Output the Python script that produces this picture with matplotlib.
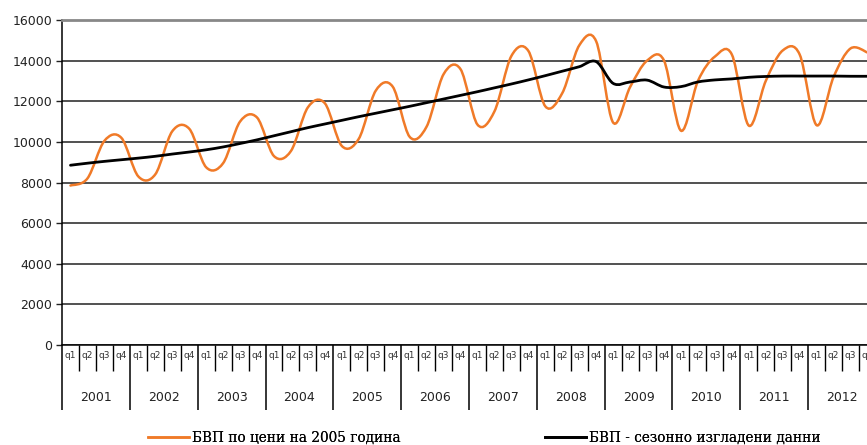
import matplotlib.pyplot as plt
import numpy as np
from matplotlib.lines import Line2D
from matplotlib.patches import PathPatch
from matplotlib.path import Path

YEARS = [str(y) for y in range(2001, 2013)]
QUARTERS = ["q1", "q2", "q3", "q4"]

# GDP at 2005 prices, quarterly
GDP_2005_PRICES = [
    7850, 8200, 10050, 10200,   # 2001
    8300, 8400, 10520, 10650,   # 2002
    8750, 8950, 11000, 11200,   # 2003
    9300, 9550, 11700, 11900,   # 2004
    9800, 10150, 12520, 12720,  # 2005
    10250, 10750, 13330, 13580, # 2006
    10850, 11500, 14230, 14480, # 2007
    11750, 12400, 14750, 14950, # 2008
    10950, 12700, 14000, 14000, # 2009
    10550, 13000, 14200, 14300, # 2010
    10800, 13000, 14500, 14300, # 2011
    10820, 13200, 14600, 14400, # 2012
]

# seasonally adjusted GDP
GDP_SEASONALLY_ADJ = [
    8850, 8950, 9040, 9120,
    9200, 9290, 9400, 9500,
    9610, 9750, 9920, 10100,
    10300, 10500, 10700, 10880,
    11060, 11240, 11410, 11580,
    11750, 11930, 12110, 12290,
    12470, 12660, 12850, 13050,
    13260, 13480, 13700, 13950,
    12880, 12950, 13040, 12700,
    12720, 12950, 13050, 13100,
    13180, 13220, 13240, 13240,
    13240, 13240, 13230, 13230,
]

LABEL_ORANGE = "БВП по цени на 2005 година"
LABEL_BLACK = "БВП - сезонно изгладени данни"

ORANGE = "#F07A28"


def smooth_path(xs, ys):
    # excel-style smoothed line: cubic bezier through every point
    pts = np.column_stack([xs, ys]).astype(float)
    n = len(pts)
    verts = [pts[0]]
    codes = [Path.MOVETO]
    for i in range(n - 1):
        p_prev = pts[i - 1] if i > 0 else pts[i]
        p_next = pts[i + 2] if i + 2 < n else pts[i + 1]
        c1 = pts[i] + (pts[i + 1] - p_prev) / 6
        c2 = pts[i + 1] - (p_next - pts[i]) / 6
        verts += [c1, c2, pts[i + 1]]
        codes += [Path.CURVE4] * 3
    return Path(verts, codes)


fig = plt.figure(figsize=(8.67, 4.45), dpi=100)
# plot area runs a little past the right edge of the picture
ax = fig.add_axes([62 / 867, 100 / 445, 814 / 867, 325 / 445])

x = np.arange(len(GDP_2005_PRICES))
ax.add_patch(PathPatch(smooth_path(x, GDP_2005_PRICES), fill=False,
                       edgecolor=ORANGE, lw=1.8, capstyle="round", zorder=3))
ax.add_patch(PathPatch(smooth_path(x, GDP_SEASONALLY_ADJ), fill=False,
                       edgecolor="black", lw=2.0, capstyle="round", zorder=4))

ax.set_xlim(-0.5, len(x) - 0.5)
ax.set_ylim(0, 16000)
ax.set_yticks(np.arange(0, 16001, 2000))
ax.yaxis.grid(True, color="#222222", lw=1.1)
ax.set_axisbelow(True)
ax.tick_params(axis="y", labelsize=9, length=4, width=1.0, pad=3, colors="#222222")

for side in ("left", "bottom"):
    ax.spines[side].set_color("black")
    ax.spines[side].set_linewidth(1.1)
ax.spines["top"].set_color("#888888")
ax.spines["top"].set_linewidth(2.0)
ax.spines["right"].set_visible(False)

# year separators (long) and quarter separators (short)
ax.set_xticks(np.arange(-0.5, len(x), 4))
ax.set_xticklabels([])
ax.tick_params(axis="x", which="major", length=47, width=1.1, direction="out")
ax.set_xticks(np.arange(-0.5, len(x), 1), minor=True)
ax.tick_params(axis="x", which="minor", length=19, width=1.0, direction="out")

xt = ax.get_xaxis_transform()
for i in x:
    ax.text(i, -0.031, QUARTERS[i % 4], transform=xt, ha="center", va="center",
            fontsize=6.5, color="#333333")
for k, yr in enumerate(YEARS):
    ax.text(4 * k + 1.5, -0.163, yr, transform=xt, ha="center", va="center",
            fontsize=9, color="#222222")

# legend, two entries spread out under the chart
h1 = Line2D([], [], color=ORANGE, lw=1.8)
h2 = Line2D([], [], color="black", lw=2.0)
for h, lab, x0 in ((h1, LABEL_ORANGE, 148), (h2, LABEL_BLACK, 545)):
    leg = fig.legend(handles=[h], labels=[lab], loc="center left",
                     bbox_to_anchor=(x0 / 867, 1 - 438 / 445), frameon=False,
                     borderpad=0, borderaxespad=0, handlelength=3.0,
                     handletextpad=0.2, prop={"family": "DejaVu Serif", "size": 9.8})
    fig.add_artist(leg)

fig.savefig("out.png", dpi=100)
